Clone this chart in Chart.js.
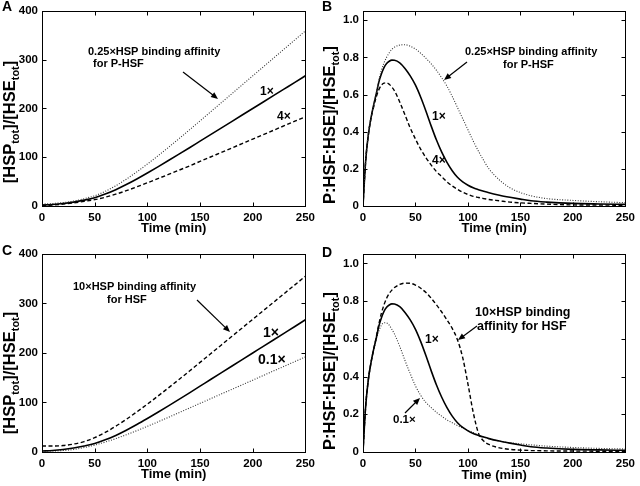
<!DOCTYPE html>
<html>
<head>
<meta charset="utf-8">
<script src="https://cdn.jsdelivr.net/npm/chart.js@4.4.1/dist/chart.umd.min.js"></script>
<style>
    body { margin: 0; background: #fff; }
    #wrap { position: relative; width: 640px; height: 486px; }
    canvas { position: absolute; }
</style>
</head>
<body>
<div id="wrap">
    <canvas id="chartA" width="320" height="243" style="left:0;top:0"></canvas>
    <canvas id="chartB" width="320" height="243" style="left:320px;top:0"></canvas>
    <canvas id="chartC" width="320" height="243" style="left:0;top:243px"></canvas>
    <canvas id="chartD" width="320" height="243" style="left:320px;top:243px"></canvas>
</div>
<script>
// ============================
// DATA
// ============================
const timeTicks = [0, 50, 100, 150, 200, 250];
const hspTicks = [0, 100, 200, 300, 400];
const pTicks = [0, 0.2, 0.4, 0.6, 0.8, 1];

// [HSPtot]/[HSEtot] panels (A, C)
const timeLong = [0, 10, 20, 30, 40, 50, 60, 70, 80, 90, 100, 110, 120, 130, 140, 150, 160, 170, 180, 190, 200, 210, 220, 230, 240, 250];
const hspBase   = [2, 3, 5, 8, 12, 17, 24.5, 33.5, 44, 55.5, 67.7, 80.3, 93.2, 106.3, 119.5, 132.9, 146.3, 159.7, 173.1, 186.5, 199.9, 213.3, 226.7, 240.1, 253.5, 267];
const hspAff025 = [4, 5, 7, 10, 15, 21, 30, 41.5, 55, 70, 86, 102.8, 120.2, 138, 156.1, 174.5, 193, 211.4, 229.9, 248.3, 266.8, 285.2, 303.7, 322.1, 340.6, 359];
const hspAff4   = [1, 2, 4, 6.5, 9.5, 13, 18, 24.2, 31.4, 39.3, 47.6, 56.1, 64.7, 73.4, 82.2, 91.4, 100.5, 109.7, 118.8, 128, 137.2, 146.3, 155.5, 164.6, 173.8, 183];
const hspHsf10  = [12, 12, 13, 16, 21, 29, 39.5, 52, 66, 81, 96.7, 112.9, 129.5, 146.4, 163.5, 180.9, 198.3, 215.7, 233.1, 250.5, 267.9, 285.3, 302.7, 320.1, 337.5, 355];
const hspHsf01  = [2, 2, 3, 5, 9, 14, 20, 27, 34.8, 43.1, 51.8, 60.8, 70, 79.4, 88.8, 98.2, 107.6, 117, 126.3, 135.7, 145.1, 154.5, 163.9, 173.2, 182.6, 192];

// P:HSF:HSE / HSEtot panels (B, D)
const timeShort = [0, 2.5, 5, 7.5, 10, 12.5, 15, 17.5, 20, 22.5, 25, 27.5, 30, 35, 40, 45, 50, 55, 60, 65, 70, 75, 80, 85, 90, 95, 100, 105, 110, 115, 120, 130, 140, 150, 160, 175, 200, 225, 250];
const pBase   = [0, 0.24, 0.38, 0.47, 0.54, 0.6, 0.665, 0.71, 0.745, 0.767, 0.779, 0.785, 0.784, 0.77, 0.74, 0.7, 0.65, 0.585, 0.51, 0.43, 0.355, 0.29, 0.235, 0.19, 0.155, 0.13, 0.112, 0.098, 0.088, 0.079, 0.071, 0.058, 0.047, 0.037, 0.028, 0.021, 0.014, 0.011, 0.009];
const pAff025 = [0, 0.24, 0.38, 0.47, 0.54, 0.605, 0.675, 0.73, 0.77, 0.8, 0.825, 0.843, 0.855, 0.866, 0.868, 0.86, 0.845, 0.822, 0.795, 0.765, 0.73, 0.69, 0.645, 0.59, 0.53, 0.47, 0.41, 0.35, 0.295, 0.245, 0.2, 0.14, 0.098, 0.072, 0.055, 0.04, 0.03, 0.023, 0.018];
const pAff4   = [0, 0.24, 0.38, 0.47, 0.53, 0.585, 0.625, 0.65, 0.661, 0.663, 0.655, 0.64, 0.62, 0.56, 0.49, 0.42, 0.36, 0.305, 0.26, 0.22, 0.185, 0.158, 0.13, 0.108, 0.09, 0.074, 0.062, 0.052, 0.046, 0.04, 0.035, 0.028, 0.021, 0.017, 0.014, 0.01, 0.006, 0.005, 0.004];
const pHsf10  = [0, 0.24, 0.38, 0.47, 0.54, 0.605, 0.675, 0.735, 0.78, 0.815, 0.84, 0.858, 0.872, 0.888, 0.895, 0.894, 0.885, 0.868, 0.845, 0.815, 0.78, 0.742, 0.7, 0.655, 0.595, 0.5, 0.36, 0.21, 0.1, 0.058, 0.04, 0.022, 0.014, 0.01, 0.008, 0.006, 0.005, 0.004, 0.003];
const pHsf01  = [0, 0.24, 0.38, 0.47, 0.54, 0.595, 0.64, 0.672, 0.685, 0.684, 0.672, 0.65, 0.625, 0.56, 0.485, 0.415, 0.35, 0.3, 0.262, 0.235, 0.21, 0.19, 0.17, 0.155, 0.14, 0.127, 0.115, 0.104, 0.09, 0.08, 0.07, 0.057, 0.049, 0.043, 0.038, 0.031, 0.024, 0.019, 0.016];

// ============================
// STYLE HELPERS
// ============================
const FONT = "'Liberation Sans', Arial, Helvetica, sans-serif";
const SOLID = { borderWidth: 1.6 };
const DASHED = { borderWidth: 1.4, borderDash: [4, 2.5] };
const DOTTED = { borderWidth: 1.1, borderDash: [1, 1.6], borderColor: '#333' };

function lineSet(xs, ys, style) {
    return Object.assign({
        data: xs.map((x, i) => ({ x: x, y: ys[i] })),
        borderColor: '#000',
        pointRadius: 0,
        fill: false,
        cubicInterpolationMode: 'monotone'
    }, style);
}

function drawRich(ctx, parts, cx, cy, size, subSize) {
    ctx.save();
    ctx.translate(cx, cy);
    ctx.rotate(-Math.PI / 2);
    let total = 0;
    parts.forEach(p => {
        ctx.font = 'bold ' + (p[1] ? subSize : size) + 'px ' + FONT;
        total += ctx.measureText(p[0]).width;
    });
    let x = -total / 2;
    ctx.textAlign = 'left';
    ctx.textBaseline = 'middle';
    ctx.fillStyle = '#000';
    parts.forEach(p => {
        ctx.font = 'bold ' + (p[1] ? subSize : size) + 'px ' + FONT;
        ctx.fillText(p[0], x, p[1] ? size * 0.35 : 0);
        x += ctx.measureText(p[0]).width;
    });
    ctx.restore();
}

function arrow(ctx, x1, y1, x2, y2) {
    const a = Math.atan2(y2 - y1, x2 - x1), L = 7, w = 3;
    const c = Math.cos(a), s = Math.sin(a);
    ctx.lineWidth = 1.2;
    ctx.beginPath();
    ctx.moveTo(x1, y1);
    ctx.lineTo(x2 - L * 0.8 * c, y2 - L * 0.8 * s);
    ctx.stroke();
    ctx.beginPath();
    ctx.moveTo(x2, y2);
    ctx.lineTo(x2 - L * c + w * s, y2 - L * s - w * c);
    ctx.lineTo(x2 - L * c - w * s, y2 - L * s + w * c);
    ctx.closePath();
    ctx.fill();
}

// frame, inward ticks, titles and annotations
function decorFor(p) {
    return {
        id: 'decor',
        afterDraw(chart) {
            const ctx = chart.ctx, a = chart.chartArea;
            const xs = chart.scales.x, ys = chart.scales.y;
            ctx.save();
            ctx.strokeStyle = '#000';
            ctx.fillStyle = '#000';
            ctx.lineWidth = 1;
            const l = Math.round(a.left) + 0.5, t = Math.round(a.top) + 0.5;
            const r = Math.round(a.right) + 0.5, b = Math.round(a.bottom) + 0.5;
            ctx.strokeRect(l, t, r - l, b - t);
            ctx.beginPath();
            xs.ticks.forEach(tk => {
                const px = Math.round(xs.getPixelForValue(tk.value)) + 0.5;
                ctx.moveTo(px, b); ctx.lineTo(px, b - 4);
                ctx.moveTo(px, t); ctx.lineTo(px, t + 4);
            });
            ys.ticks.forEach(tk => {
                const py = Math.round(ys.getPixelForValue(tk.value)) + 0.5;
                ctx.moveTo(l, py); ctx.lineTo(l + 4, py);
                ctx.moveTo(r, py); ctx.lineTo(r - 4, py);
            });
            ctx.stroke();

            ctx.textBaseline = 'middle';
            ctx.font = 'bold 14px ' + FONT;
            ctx.textAlign = 'left';
            ctx.fillText(p.letter, 2, p.letterY);

            ctx.font = 'bold 13px ' + FONT;
            ctx.textAlign = 'center';
            ctx.fillText('Time (min)', (a.left + a.right) / 2, p.xTitleY);

            drawRich(ctx, p.yTitle, p.yTitleX, p.yTitleY, 16.5, 11);

            ctx.textAlign = 'left';
            p.notes.forEach(n => {
                ctx.font = 'bold ' + n.size + 'px ' + FONT;
                ctx.fillText(n.text, n.x, n.y);
            });
            p.arrows.forEach(ar => arrow(ctx, ar[0], ar[1], ar[2], ar[3]));
            ctx.restore();
        }
    };
}

function makePanel(id, p) {
    const W = 320, H = 243;
    const tickFont = { family: FONT, size: 11.5, weight: 'bold' };
    new Chart(document.getElementById(id), {
        type: 'line',
        data: { datasets: p.datasets },
        options: {
            responsive: false,
            animation: false,
            devicePixelRatio: 1,
            layout: { padding: { left: 0, top: p.box.top, right: W - p.box.right, bottom: 0 } },
            plugins: { legend: { display: false }, tooltip: { enabled: false } },
            scales: {
                x: {
                    type: 'linear', min: 0, max: 250,
                    grid: { display: false, drawTicks: false },
                    border: { display: false },
                    afterBuildTicks: s => { s.ticks = timeTicks.map(v => ({ value: v })); },
                    afterFit: s => { s.height = H - p.box.bottom; },
                    ticks: { padding: 5, color: '#000', font: tickFont, maxRotation: 0, autoSkip: false }
                },
                y: {
                    type: 'linear', min: 0, max: p.yMax,
                    grid: { display: false, drawTicks: false },
                    border: { display: false },
                    afterBuildTicks: s => { s.ticks = p.yTicks.map(v => ({ value: v })); },
                    afterFit: s => { s.width = p.box.left; },
                    ticks: { padding: 4, color: '#000', font: tickFont, autoSkip: false }
                }
            }
        },
        plugins: [decorFor(p)]
    });
}

const hspTitle = [['[HSP'], ['tot', 1], [']/[HSE'], ['tot', 1], [']']];
const pTitle = [['P:HSF:HSE]/[HSE'], ['tot', 1], [']']];

// ============================
// A
// ============================
makePanel('chartA', {
    box: { left: 42, top: 6, right: 307, bottom: 206 },
    yMax: 400, yTicks: hspTicks,
    datasets: [
        lineSet(timeLong, hspAff025, DOTTED),
        lineSet(timeLong, hspBase, SOLID),
        lineSet(timeLong, hspAff4, DASHED)
    ],
    letter: 'A', letterY: 7, xTitleY: 228,
    yTitle: hspTitle, yTitleX: 10, yTitleY: 122,
    notes: [
        { text: '0.25×HSP binding affinity', x: 88, y: 52, size: 11 },
        { text: 'for P-HSF', x: 93, y: 64, size: 11 },
        { text: '1×', x: 260, y: 92, size: 12 },
        { text: '4×', x: 277, y: 117, size: 12 }
    ],
    arrows: [[183, 72, 218, 99]]
});

// ============================
// B
// ============================
makePanel('chartB', {
    box: { left: 43, top: 6, right: 307, bottom: 206 },
    yMax: 1.05, yTicks: pTicks,
    datasets: [
        lineSet(timeShort, pAff025, DOTTED),
        lineSet(timeShort, pBase, SOLID),
        lineSet(timeShort, pAff4, DASHED)
    ],
    letter: 'B', letterY: 7, xTitleY: 228,
    yTitle: pTitle, yTitleX: 10, yTitleY: 125,
    notes: [
        { text: '0.25×HSP binding affinity', x: 145, y: 52, size: 11 },
        { text: 'for P-HSF', x: 183, y: 65, size: 11 },
        { text: '1×', x: 112, y: 117, size: 12 },
        { text: '4×', x: 112, y: 161, size: 12 }
    ],
    arrows: [[147, 62, 124, 80]]
});

// ============================
// C
// ============================
makePanel('chartC', {
    box: { left: 42, top: 9, right: 307, bottom: 209 },
    yMax: 400, yTicks: hspTicks,
    datasets: [
        lineSet(timeLong, hspHsf10, DASHED),
        lineSet(timeLong, hspBase, SOLID),
        lineSet(timeLong, hspHsf01, DOTTED)
    ],
    letter: 'C', letterY: 8, xTitleY: 231,
    yTitle: hspTitle, yTitleX: 10, yTitleY: 130,
    notes: [
        { text: '10×HSP binding affinity', x: 73, y: 44, size: 11 },
        { text: 'for HSF', x: 107, y: 57, size: 11 },
        { text: '1×', x: 263, y: 90, size: 14 },
        { text: '0.1×', x: 258, y: 117, size: 14 }
    ],
    arrows: [[197, 57, 230, 89]]
});

// ============================
// D
// ============================
makePanel('chartD', {
    box: { left: 43, top: 8, right: 307, bottom: 209 },
    yMax: 1.05, yTicks: pTicks,
    datasets: [
        lineSet(timeShort, pHsf10, DASHED),
        lineSet(timeShort, pBase, SOLID),
        lineSet(timeShort, pHsf01, DOTTED)
    ],
    letter: 'D', letterY: 10, xTitleY: 232,
    yTitle: pTitle, yTitleX: 10, yTitleY: 128,
    notes: [
        { text: '10×HSP binding', x: 155, y: 70, size: 12.5 },
        { text: 'affinity for HSF', x: 157, y: 84, size: 12.5 },
        { text: '1×', x: 105, y: 97, size: 12 },
        { text: '0.1×', x: 73, y: 177, size: 11.5 }
    ],
    arrows: [[157, 83, 138, 97], [85, 170, 100, 155]]
});
</script>
</body>
</html>
